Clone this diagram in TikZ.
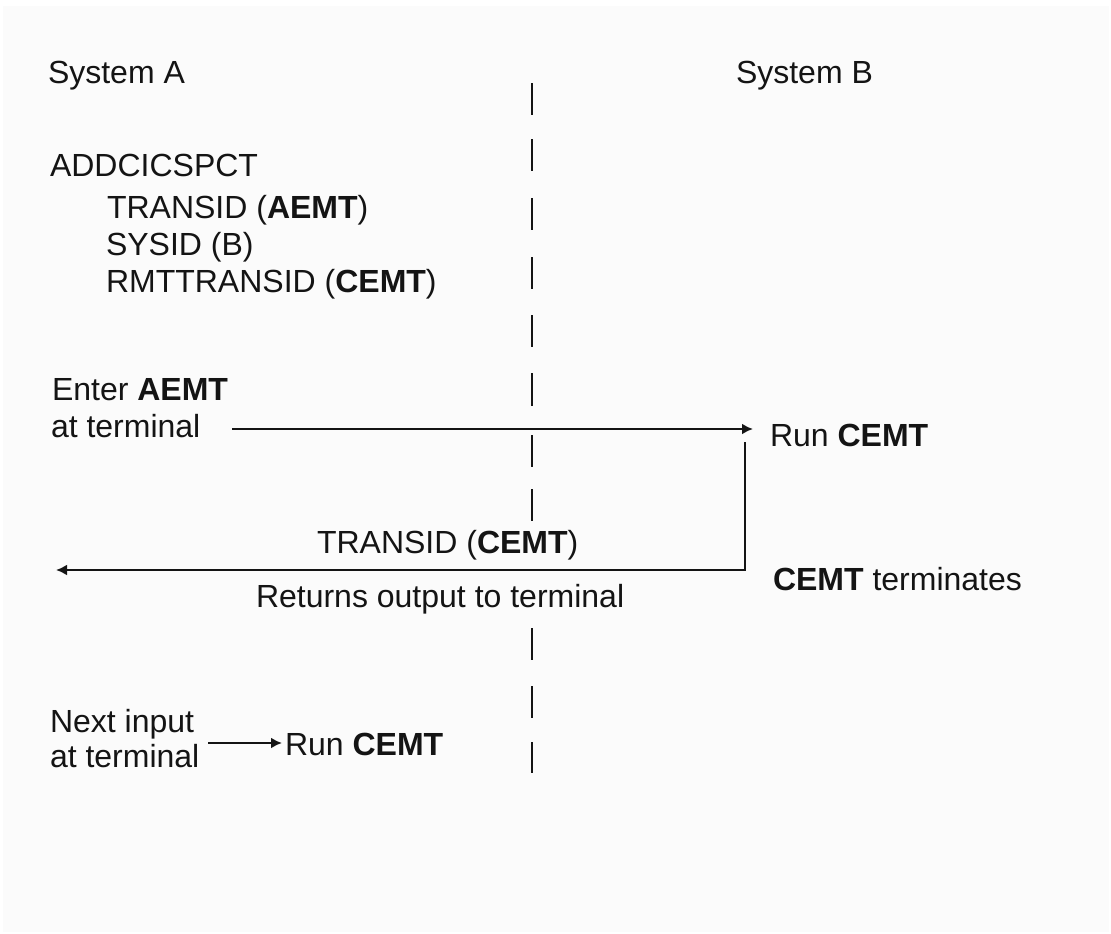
\documentclass[tikz,border=0pt]{standalone}
\usepackage{fontspec}
\setmainfont{Liberation Sans}
\usetikzlibrary{arrows.meta}
\definecolor{bgpanel}{HTML}{FBFBFB}
\definecolor{ink}{HTML}{141414}
\begin{document}
\begin{tikzpicture}[x=1pt,y=-1pt,
  txt/.style={anchor=base west,inner sep=0pt,outer sep=0pt,text=ink,font=\fontsize{32}{38}\selectfont},
  conn/.style={draw=ink,line width=2.4pt},
  arr/.style={conn,-{Latex[length=11pt,width=11pt]}},
  dashseg/.style={draw=ink,line width=2.4pt}]
\useasboundingbox (0,0) rectangle (1111,934);
\fill[white] (0,0) rectangle (1111,934);
\fill[bgpanel] (3,6) rectangle (1109,932);
% dashed divider
\foreach \a/\b in {83/115,139/171,198/230,257/289,315/347,373/406,435/467,489/521,628/660,686/718,742/773}
  \draw[dashseg] (532,\a) -- (532,\b);
% texts
\node[txt] (sysA) at (48,83) {System A};
\node[txt] (sysB) at (736,83) {System B};
\node[txt] (addc) at (50,176) {ADDCICSPCT};
\node[txt] (l1) at (107,218) {TRANSID (\textbf{AEMT})};
\node[txt] (l2) at (106,255) {SYSID (B)};
\node[txt] (l3) at (106,292) {RMTTRANSID (\textbf{CEMT})};
\node[txt] (enter1) at (52,400) {Enter \textbf{AEMT}};
\node[txt] (enter2) at (51,437) {at terminal};
\node[txt] (run1) at (770,446) {Run \textbf{CEMT}};
\node[txt] (trans) at (317,553) {TRANSID (\textbf{CEMT})};
\node[txt] (term) at (773,590) {\textbf{CEMT} terminates};
\node[txt] (ret) at (256,607) {Returns output to terminal};
\node[txt] (next1) at (50,732) {Next input};
\node[txt] (next2) at (50,767) {at terminal};
\node[txt] (run2) at (285,755) {Run \textbf{CEMT}};
% connector anchor points
\coordinate (a1s) at (232,429);
\coordinate (a1e) at (753,429);
\coordinate (rs) at (745,442);
\coordinate (re) at (56,570);
\coordinate (a3s) at (208,743);
\coordinate (a3e) at (282,743);
% connectors
\draw[arr] (a1s) -- (a1e);
\draw[arr] (rs) |- (re);
\draw[arr] (a3s) -- (a3e);
\end{tikzpicture}
\end{document}
